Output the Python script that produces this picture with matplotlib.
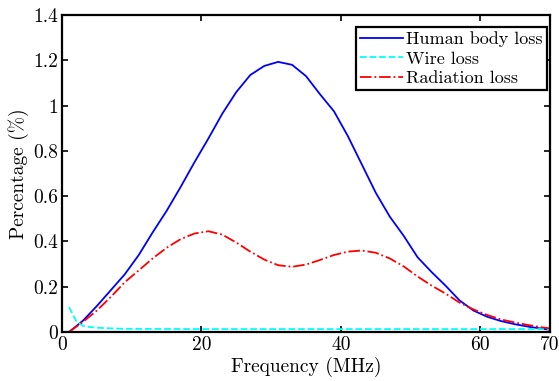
import matplotlib
matplotlib.use('Agg')
import matplotlib.pyplot as plt

# frequency grid (MHz) and loss percentages
freq = [1, 3, 5, 7, 9, 11, 13, 15, 17, 19, 21, 23, 25, 27, 29, 31, 33, 35,
        37, 39, 41, 43, 45, 47, 49, 51, 53, 55, 57, 59, 61, 63, 65, 67, 69, 70]
body_loss = [0.0, 0.05, 0.115, 0.185, 0.255, 0.34, 0.44, 0.535, 0.64, 0.75,
             0.855, 0.965, 1.06, 1.135, 1.175, 1.193, 1.18, 1.13, 1.05, 0.975,
             0.865, 0.74, 0.615, 0.51, 0.425, 0.33, 0.265, 0.205, 0.14, 0.095,
             0.067, 0.048, 0.034, 0.023, 0.014, 0.01]
radiation_loss = [0.0, 0.045, 0.095, 0.155, 0.22, 0.272, 0.325, 0.372, 0.41,
                  0.435, 0.445, 0.43, 0.395, 0.355, 0.32, 0.295, 0.288, 0.298,
                  0.318, 0.34, 0.355, 0.36, 0.35, 0.325, 0.29, 0.245, 0.205,
                  0.17, 0.13, 0.1, 0.075, 0.055, 0.042, 0.03, 0.02, 0.016]
wire_freq = [1, 2, 3, 4, 5, 7, 9, 20, 30, 40, 50, 60, 70]
wire_loss = [0.11, 0.05, 0.027, 0.022, 0.019, 0.016, 0.014, 0.013, 0.013,
             0.013, 0.013, 0.013, 0.013]

xticks = [0, 20, 40, 60, 70]
yticks = [0, 0.2, 0.4, 0.6, 0.8, 1.0, 1.2, 1.4]
ytick_labels = ['0', '0.2', '0.4', '0.6', '0.8', '1', '1.2', '1.4']

plt.rcParams['font.family'] = ['cmr10', 'DejaVu Serif']
plt.rcParams['mathtext.fontset'] = 'cm'
plt.rcParams['axes.unicode_minus'] = False
plt.rcParams['font.size'] = 14


def main():
    fig = plt.figure(figsize=(5.59, 3.81), dpi=100)
    ax = fig.add_axes([0.111, 0.1286, 0.873, 0.832])

    ax.plot(freq, body_loss, '-', color='blue', linewidth=1.3, label='Human body loss')
    ax.plot(wire_freq, wire_loss, '--', color='cyan', linewidth=1.3, label='Wire loss')
    ax.plot(freq, radiation_loss, '-.', color='red', linewidth=1.3, label='Radiation loss')

    ax.set_xlim(0, 70)
    ax.set_ylim(0, 1.4)
    ax.set_xticks(xticks)
    ax.set_xticklabels([str(t) for t in xticks])
    ax.set_yticks(yticks)
    ax.set_yticklabels(ytick_labels)
    ax.tick_params(direction='in', top=True, right=True, length=4, width=1.2,
                   labelsize=14, pad=3)
    for spine in ax.spines.values():
        spine.set_linewidth(1.6)

    ax.set_xlabel('Frequency (MHz)', fontsize=14, labelpad=2)
    ax.set_ylabel('Percentage (%)', fontsize=14, labelpad=3)

    leg = ax.legend(loc='upper right', bbox_to_anchor=(0.994, 0.962),
                    borderaxespad=0, fancybox=False, framealpha=1,
                    edgecolor='black', borderpad=0.25, labelspacing=0.2,
                    handlelength=2.4, handletextpad=0.15, fontsize=13)
    leg.get_frame().set_linewidth(1.6)

    fig.savefig('out.png', dpi=100)


if __name__ == "__main__":
    main()
